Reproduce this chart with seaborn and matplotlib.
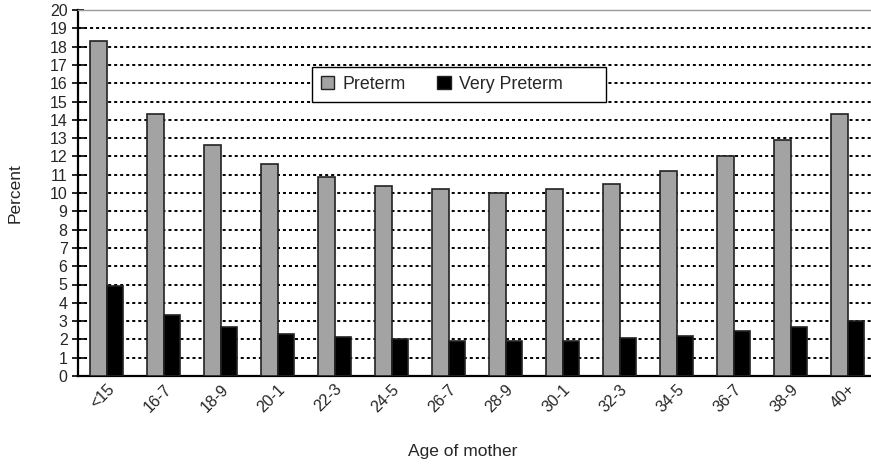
import matplotlib
matplotlib.use("Agg")
import matplotlib.pyplot as plt
import seaborn as sns
import pandas as pd
from matplotlib.patches import Patch
from matplotlib.ticker import FixedLocator

categories = ["<15", "16-7", "18-9", "20-1", "22-3", "24-5", "26-7",
              "28-9", "30-1", "32-3", "34-5", "36-7", "38-9", "40+"]
preterm = [18.3, 14.3, 12.6, 11.6, 10.9, 10.4, 10.2,
           10.0, 10.2, 10.5, 11.2, 12.0, 12.9, 14.3]
very_preterm = [4.9, 3.35, 2.7, 2.3, 2.15, 2.0, 1.93,
                1.93, 1.93, 2.05, 2.2, 2.45, 2.7, 3.03]
series_names = ["Preterm", "Very Preterm"]
yticks = list(range(0, 21))

sns.set_style("white")
plt.rcParams["font.family"] = ["Liberation Sans", "DejaVu Sans"]

df = pd.DataFrame({
    "age": categories * 2,
    "pct": preterm + very_preterm,
    "series": [series_names[0]] * len(categories) + [series_names[1]] * len(categories),
})

W, H = 871, 466
fig = plt.figure(figsize=(W / 100, H / 100), dpi=100)
ax = fig.add_axes([78 / W, (H - 376) / H, (876 - 78) / W, 366 / H])

palette = {"Preterm": "#a3a3a3", "Very Preterm": "#000000"}
sns.barplot(data=df, x="age", y="pct", hue="series", order=categories,
            hue_order=series_names, palette=palette, width=0.57, gap=0,
            edgecolor="#222222", linewidth=1.2, saturation=1, ax=ax,
            legend=False, zorder=3)

ax.set_xlim(-0.5, len(categories) - 0.5)
ax.set_ylim(0, 20)
ax.set_yticks(yticks)
ax.set_yticklabels([str(v) for v in yticks], fontsize=11.5)

# grid lines
for v in yticks[1:]:
    ax.axhline(v, color="black", lw=1.4, linestyle=(0, (1.55, 1.55)), zorder=1)

# x ticks: boundaries as major (unlabeled), centers as minor (labeled)
ax.xaxis.set_major_locator(FixedLocator([i - 0.5 for i in range(len(categories) + 1)]))
ax.xaxis.set_major_formatter(plt.NullFormatter())
ax.xaxis.set_minor_locator(FixedLocator(list(range(len(categories)))))
ax.set_xticklabels(categories, minor=True, fontsize=11.5, rotation=45,
                   ha="right", va="top", rotation_mode="anchor")
ax.tick_params(axis="x", which="major", direction="inout", length=13, width=1.2, color="#333333")
ax.tick_params(axis="x", which="minor", length=0, pad=4)
ax.tick_params(axis="y", which="major", direction="inout", length=9, width=1.2,
               color="black", pad=3, left=True)

for side in ["left", "bottom"]:
    ax.spines[side].set_color("black")
    ax.spines[side].set_linewidth(1.6)
ax.spines["top"].set_color("#999999")
ax.spines["top"].set_linewidth(1.0)
ax.spines["right"].set_visible(False)

ax.set_xlabel("Age of mother", fontsize=12.5)
ax.set_ylabel("Percent", fontsize=12.5)
ax.xaxis.set_label_coords((463 - 78) / (876 - 78), -(444 - 376) / 366)
ax.yaxis.set_label_coords((23 - 78) / (876 - 78), 0.5)

handles = [Patch(facecolor=palette[s], edgecolor="#222222", linewidth=1.0) for s in series_names]
leg = fig.legend(handles, ["Preterm", "Very Preterm" + "\u00a0" * 7], loc="upper left",
                 bbox_to_anchor=(312 / W, 1 - 67 / H), ncol=2, fontsize=12.8,
                 frameon=True, fancybox=False, edgecolor="black", framealpha=1,
                 handlelength=0.75, handleheight=0.75, handletextpad=0.45,
                 columnspacing=1.8, borderpad=0.5, borderaxespad=0)
leg.get_frame().set_linewidth(1.0)

fig.savefig("out.png", dpi=100)
